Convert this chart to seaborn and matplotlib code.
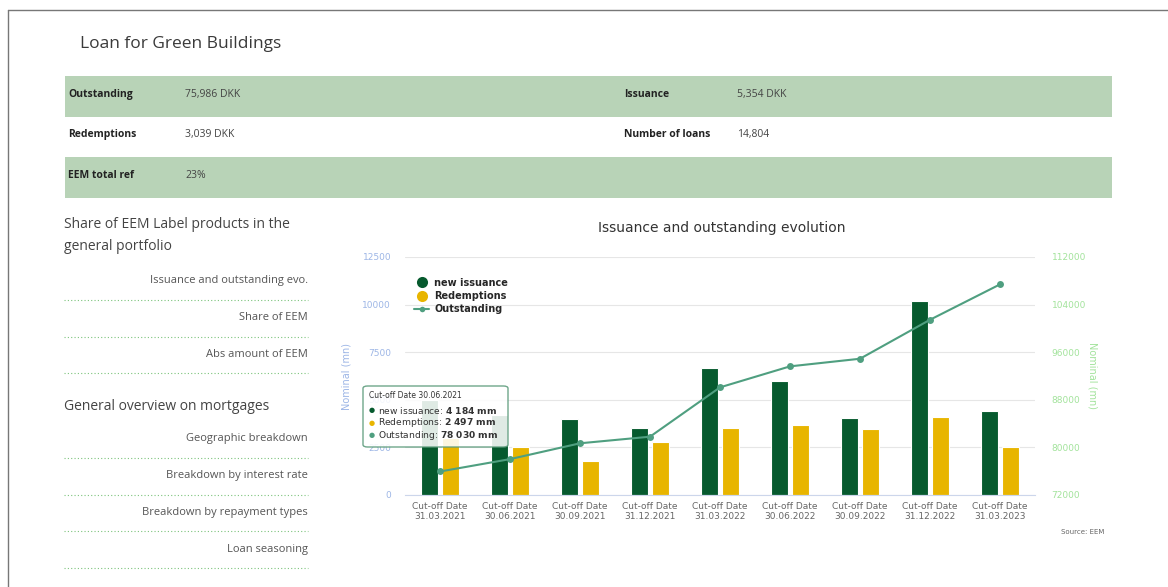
import matplotlib.pyplot as plt
import matplotlib.patches as mpatches
from matplotlib.lines import Line2D
import seaborn as sns
import numpy as np
import pandas as pd

sns.set_style("white")
plt.rcParams["font.family"] = ["DejaVu Sans"]

# chart data
dates = ["31.03.2021", "30.06.2021", "30.09.2021", "31.12.2021", "31.03.2022",
         "30.06.2022", "30.09.2022", "31.12.2022", "31.03.2023"]
new_issuance = [4990, 4184, 3990, 3540, 6650, 6000, 4040, 10180, 4430]
redemptions = [3000, 2497, 1790, 2770, 3520, 3680, 3450, 4100, 2500]
outstanding = [75950, 78030, 80690, 81800, 90090, 93620, 94900, 101450, 107400]

left_ticks = [0, 2500, 5000, 7500, 10000, 12500]
right_ticks = [72000, 80000, 88000, 96000, 104000, 112000]

# key figures table
table_rows = [
    ("Outstanding", "75,986 DKK", "Issuance", "5,354 DKK"),
    ("Redemptions", "3,039 DKK", "Number of loans", "14,804"),
    ("EEM total ref", "23%", "", ""),
]
menu_1 = ["Issuance and outstanding evo.", "Share of EEM", "Abs amount of EEM"]
menu_2 = ["Geographic breakdown", "Breakdown by interest rate",
          "Breakdown by repayment types", "Loan seasoning"]

W, H = 1168, 587
GREEN = "#065a2e"
YELLOW = "#e8b500"
LINE = "#4f9f80"
PAGE_FONT = ["Open Sans", "DejaVu Sans"]

fig = plt.figure(figsize=(W / 100, H / 100), dpi=100)


def px(x, y):
    return x / W, 1 - y / H


def ftext(x, y, s, **kw):
    fig.text(*px(x, y), s, **kw)


# page frame
fig.add_artist(Line2D([8 / W, 8 / W], [0, 1 - 10 / H], color="#777777", lw=1))
fig.add_artist(Line2D([8 / W, 1], [1 - 10 / H, 1 - 10 / H], color="#777777", lw=1))

ftext(80, 44, "Loan for Green Buildings", fontsize=12.5, color="#3a3a3a",
      va="center", family=PAGE_FONT)

# table
row_tops = [76, 116, 157]
row_h = 41
for i, (l1, v1, l2, v2) in enumerate(table_rows):
    top = row_tops[i]
    if i % 2 == 0:
        fig.add_artist(mpatches.Rectangle(px(65, top + row_h), (1112 - 65) / W, row_h / H,
                                          color="#b8d3b7", lw=0))
    yc = top + row_h / 2 - 2
    ftext(68, yc, l1, fontsize=7.5, weight="bold", color="#222222", va="center", family=PAGE_FONT)
    ftext(185, yc, v1, fontsize=7.5, color="#444444", va="center", family=PAGE_FONT)
    ftext(624, yc, l2, fontsize=7.5, weight="bold", color="#222222", va="center", family=PAGE_FONT)
    ftext(737, yc, v2, fontsize=7.5, color="#444444", va="center", family=PAGE_FONT)

# side menu
ftext(64, 224, "Share of EEM Label products in the", fontsize=10, color="#444444",
      va="center", family=PAGE_FONT)
ftext(64, 247, "general portfolio", fontsize=10, color="#444444", va="center", family=PAGE_FONT)
ftext(64, 406, "General overview on mortgages", fontsize=10, color="#444444",
      va="center", family=PAGE_FONT)


def menu(items, y0):
    for k, s in enumerate(items):
        y = y0 + k * 36.7
        ftext(308, y, s, fontsize=8, color="#555555", ha="right", va="center", family=PAGE_FONT)
        fig.add_artist(Line2D([64 / W, 308 / W], [1 - (y + 19) / H] * 2, color="#7cc47c",
                              lw=0.8, linestyle=(0, (1, 2))))


menu(menu_1, 281)
menu(menu_2, 439)

# chart
ax = fig.add_axes([405 / W, 1 - 495 / H, 630 / W, 238 / H])
df = pd.DataFrame({
    "date": dates * 2,
    "value": new_issuance + redemptions,
    "series": ["new issuance"] * len(dates) + ["Redemptions"] * len(dates),
})
sns.barplot(data=df, x="date", y="value", hue="series", ax=ax,
            palette=[GREEN, YELLOW], width=0.6, gap=0.23, saturation=1,
            edgecolor="white", linewidth=0.8, legend=False)
ax.set_xlim(-0.5, 8.5)
ax.set_ylim(0, 12500)
ax.set_yticks(left_ticks)
ax.set_yticklabels([str(t) for t in left_ticks])
ax.set_xticks(range(len(dates)))
ax.set_xticklabels([f"Cut-off Date\n{d}" for d in dates], fontsize=6.5, color="#666666")
ax.tick_params(axis="y", colors="#9db6e6", labelsize=6.5, length=0, pad=10)
ax.tick_params(axis="x", length=0, pad=5)
ax.grid(axis="y", color="#e6e6e6", lw=0.8)
ax.set_axisbelow(True)
for s in ["top", "left", "right"]:
    ax.spines[s].set_visible(False)
ax.spines["bottom"].set_color("#ccd6eb")
ax.set_xlabel("")
ax.set_ylabel("Nominal (mn)", color="#9db6e6", fontsize=7, labelpad=8)

ax2 = ax.twinx()
sns.lineplot(x=np.arange(len(dates)), y=outstanding, ax=ax2, color=LINE, lw=1.5,
             marker="o", markersize=5, markeredgewidth=0)
ax2.set_ylim(72000, 112000)
ax2.set_yticks(right_ticks)
ax2.set_yticklabels([str(t) for t in right_ticks])
ax2.tick_params(axis="y", colors="#a3e39c", labelsize=6.5, length=0, pad=12)
for s in ["top", "left", "right", "bottom"]:
    ax2.spines[s].set_visible(False)
ax2.set_ylabel("Nominal (mn)", color="#a3e39c", fontsize=7, rotation=-90, labelpad=8)

handles = [
    Line2D([], [], marker="o", color="none", markerfacecolor=GREEN, markeredgewidth=0,
           markersize=8, label="new issuance"),
    Line2D([], [], marker="o", color="none", markerfacecolor=YELLOW, markeredgewidth=0,
           markersize=8, label="Redemptions"),
    Line2D([], [], marker="o", color=LINE, markersize=4, markeredgewidth=0, lw=1.5,
           label="Outstanding"),
]
ax2.legend(handles=handles, loc="upper left", bbox_to_anchor=(0.0, 0.95), frameon=False,
           handlelength=1.6, handletextpad=0.5, labelspacing=0.35,
           prop={"weight": "bold", "size": 7})

ftext(722, 228, "Issuance and outstanding evolution", fontsize=10, color="#333333",
      ha="center", va="center")
ftext(1104, 532, "Source: EEM", fontsize=5, color="#666666", ha="right", va="center")

# tooltip
tip = mpatches.FancyBboxPatch(px(363, 447), 145 / W, 61 / H,
                              boxstyle="round,pad=0,rounding_size=0.004",
                              facecolor="white", alpha=0.88, edgecolor="#5a9a7a", lw=1)
fig.add_artist(tip)
ftext(369, 396, "Cut-off Date " + dates[1], fontsize=5.5, color="#333333", va="center")
tip_rows = [("new issuance", new_issuance[1], GREEN),
            ("Redemptions", redemptions[1], YELLOW),
            ("Outstanding", outstanding[1], LINE)]
for k, (name, val, c) in enumerate(tip_rows):
    y = 410 + k * 12.5
    ftext(369, y, "●", fontsize=5, color=c, va="center")
    val_s = f"{val:,}".replace(",", "~")
    ftext(378, y, f"{name}: $\\bf{{{val_s}~mm}}$", fontsize=6.6,
          color="#333333", va="center")

fig.savefig("out.png", dpi=100)
